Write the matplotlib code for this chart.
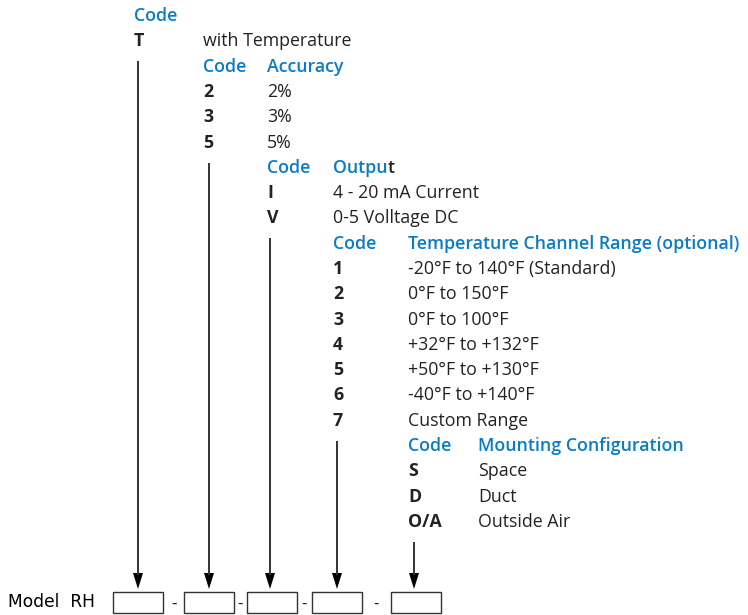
import matplotlib
matplotlib.use("Agg")
from matplotlib import pyplot as plt
from matplotlib.patches import Rectangle, Polygon

# ordering code fields, one per box
field_titles = ['', 'Accuracy', 'Output', 'Temperature Channel Range (optional)',
                'Mounting Configuration']
field_codes = [
    ['T'],
    ['2', '3', '5'],
    ['I', 'V'],
    ['1', '2', '3', '4', '5', '6', '7'],
    ['S', 'D', 'O/A'],
]
field_options = [
    ['with Temperature'],
    ['2%', '3%', '5%'],
    ['4 - 20 mA Current', '0-5 Volltage DC'],
    ['-20°F to 140°F (Standard)', '0°F to 150°F', '0°F to 100°F',
     '+32°F to +132°F', '+50°F to +130°F', '-40°F to +140°F', 'Custom Range'],
    ['Space', 'Duct', 'Outside Air'],
]
model_label = 'Model  RH'

BLUE = '#0a7cc4'
INK = '#222222'
LINE = '#333333'
FONT = 'Open Sans'
FS = 12.8

columns = [134, 203, 267, 333, 408, 478]
leader_x = [138, 209, 270, 337, 414]
row0, row_h = 16, 25.3
box_left = [113, 184, 247, 312, 391]
box_w, box_top, box_bot = 50, 592, 613
dash_x = [174, 240, 304, 376]
tip_y = 589

fig = plt.figure(figsize=(7.48, 6.15), dpi=100)
ax = fig.add_axes([0, 0, 1, 1])
ax.set_xlim(0, 748)
ax.set_ylim(615, 0)
ax.axis('off')

row = 0
for i, (title, codes, opts) in enumerate(zip(field_titles, field_codes, field_options)):
    cx, lx = columns[i], columns[i + 1]
    y = row0 + row_h * row
    ax.text(cx, y, 'Code', color=BLUE, fontsize=FS, fontweight='semibold',
            family=FONT, va='center', ha='left')
    if title == 'Output':
        # the last letter is printed black in the original
        t = ax.text(lx, y, 'Outpu', color=BLUE, fontsize=FS, fontweight='semibold',
                    family=FONT, va='center', ha='left')
        fig.canvas.draw()
        bb = t.get_window_extent().transformed(ax.transData.inverted())
        ax.text(bb.x1, y, 't', color=INK, fontsize=FS, fontweight='semibold',
                family=FONT, va='center', ha='left')
    elif title:
        ax.text(lx, y, title, color=BLUE, fontsize=FS, fontweight='semibold',
                family=FONT, va='center', ha='left')
    row += 1
    for code, opt in zip(codes, opts):
        y = row0 + row_h * row
        ax.text(cx, y, code, color=INK, fontsize=FS, fontweight='bold',
                family=FONT, va='center', ha='left')
        ax.text(lx, y, opt, color=INK, fontsize=FS, family=FONT,
                va='center', ha='left')
        row += 1
    # leader line from this field down to its box
    last_y = row0 + row_h * (row - 1)
    x = leader_x[i]
    ax.plot([x, x], [last_y + 20, tip_y - 14], color=LINE, lw=1.4,
            solid_capstyle='butt')
    ax.add_patch(Polygon([[x - 5, tip_y - 16], [x + 5, tip_y - 16], [x, tip_y]],
                         closed=True, color='black', lw=0))

for bx in box_left:
    ax.add_patch(Rectangle((bx, box_top), box_w, box_bot - box_top,
                           fill=False, ec=LINE, lw=1.0))
for dx in dash_x:
    ax.text(dx, 603, '-', color=INK, fontsize=11,
            family='DejaVu Sans', va='center', ha='center')

ax.text(8, 602, model_label, color='black', fontsize=12.3, family='DejaVu Sans',
        va='center', ha='left')

fig.savefig('out.png', dpi=100)
